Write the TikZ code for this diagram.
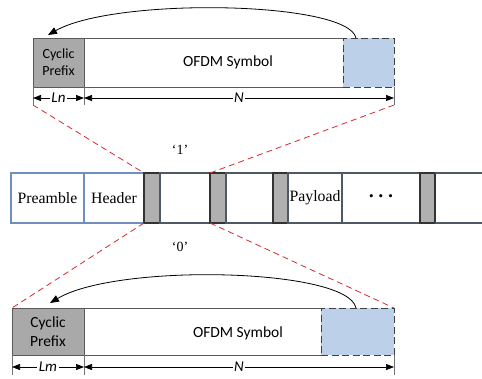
\documentclass[tikz,border=0pt]{standalone}
\usepackage{fontspec}
\setmainfont{Liberation Serif}
\newfontfamily\calfont{Carlito}
\usetikzlibrary{arrows.meta,calc}
\definecolor{cpgray}{HTML}{A9A9A9}
\definecolor{gbar}{HTML}{B0B0B0}
\definecolor{lightblue}{HTML}{BDD0E9}
\definecolor{framegray}{HTML}{595959}
\definecolor{slate}{HTML}{4F5866}
\definecolor{midblue}{HTML}{6F8FBF}
\definecolor{reddash}{HTML}{D52B2E}
\begin{document}
\begin{tikzpicture}[x=1pt,y=-1pt,
 cpbox/.style={draw=framegray, fill=cpgray, line width=0.8pt, inner sep=0pt, outer sep=0pt, align=center, anchor=north west},
 symbox/.style={draw=framegray, line width=0.8pt, inner sep=0pt, outer sep=0pt, anchor=north west},
 bluebox/.style={draw=black!75, fill=lightblue, line width=0.9pt, dash pattern=on 7pt off 3.5pt, inner sep=0pt, outer sep=0pt, anchor=north west},
 midbox/.style={draw=slate, line width=1.1pt, minimum height=50pt, inner sep=0pt, outer sep=0pt, anchor=north west, font=\fontsize{15.8}{18}\selectfont},
 prebox/.style={midbox, draw=midblue},
 gbox/.style={midbox, fill=gbar, draw=black!80},
 tickline/.style={draw=black!55, line width=0.6pt},
 dimarrow/.style={black, line width=0.7pt, {Triangle[length=8pt,width=6pt]}-{Triangle[length=8pt,width=6pt]}},
 dimlabel/.style={fill=white, inner sep=1.5pt, font=\calfont\itshape\fontsize{15}{15}\selectfont},
 backarrow/.style={black, line width=0.8pt, -{Triangle[length=9pt,width=7pt]}},
 rdash/.style={draw=reddash, line width=0.8pt, dash pattern=on 6pt off 4pt},
 qlabel/.style={font=\fontsize{14}{14}\selectfont},
 symtext/.style={font=\calfont\fontsize{15.5}{18}\selectfont},
]
\useasboundingbox (0,0) rectangle (482,378);

% ---------- top symbol ----------
\node[cpbox, minimum width=51pt, minimum height=49pt, font=\calfont\fontsize{14}{17}\selectfont] (cp1) at (33,38) {Cyclic\\Prefix};
\node[symbox, minimum width=259pt, minimum height=49pt] (sym1) at (cp1.north east) {};
\node[bluebox, minimum width=51pt, minimum height=49pt] (b1) at (sym1.north east) {};
\node[symtext] (t1) at (228,62) {OFDM Symbol};

\draw[tickline] (cp1.south west) -- ++(0,18) coordinate (k1);
\draw[tickline] (cp1.south east) -- ++(0,18) coordinate (k2);
\draw[tickline] (b1.south east) -- ++(0,18) coordinate (k3);
\draw[dimarrow] ($(cp1.south west)+(0,11)$) -- ($(cp1.south east)+(0,11)$) node[midway, dimlabel] (ln) {Ln};
\draw[dimarrow] ($(cp1.south east)+(0,11)$) -- ($(b1.south east)+(0,11)$) node[midway, dimlabel] (n1) {N};

\draw[backarrow] ($(b1.north west)+(13,0)$) .. controls +(-8,-37) and +(67,-38) .. ($(cp1.north west)+(15,-3)$);

% ---------- middle frame ----------
\node[prebox, minimum width=73pt] (pre) at (11,173) {Preamble};
\node[prebox, minimum width=60pt] (hdr) at (pre.north east) {Header};
\node[gbox, minimum width=16pt] (g1) at (hdr.north east) {};
\node[midbox, minimum width=50pt] (e1) at (g1.north east) {};
\node[gbox, minimum width=16pt] (g2) at (e1.north east) {};
\node[midbox, minimum width=47pt] (e2) at (g2.north east) {};
\node[gbox, minimum width=15pt] (g3) at (e2.north east) {};
\node[midbox, minimum width=54pt] (pay) at (g3.north east) {Payload};
\node[midbox, minimum width=78pt] (dts) at (pay.north east) {{\fontsize{13}{13}\selectfont •\hspace{5pt}•\hspace{5pt}•}};
\node[gbox, minimum width=15pt] (g4) at (dts.north east) {};
\node[midbox, draw=none, minimum width=47pt] (e3) at (g4.north east) {};
\draw[slate, line width=1.1pt] (e3.north west) -- (e3.north east) (e3.south west) -- (e3.south east);

\node[qlabel] (one) at (180,150) {‘1’};
\node[qlabel] (zero) at (180,247) {‘0’};

% ---------- bottom symbol ----------
\node[cpbox, minimum width=72pt, minimum height=47pt, font=\calfont\fontsize{15.5}{19}\selectfont] (cp2) at (12,308) {Cyclic\\Prefix};
\node[symbox, draw=none, minimum width=237pt, minimum height=47pt] (sym2) at (cp2.north east) {};
\draw[framegray, line width=0.8pt] (sym2.north west) -- (sym2.north east) (sym2.south west) -- (sym2.south east);
\node[bluebox, minimum width=73pt, minimum height=47pt] (b2) at (sym2.north east) {};
\node[symtext] (t2) at (238,333) {OFDM Symbol};

\draw[tickline] (cp2.south west) -- ++(0,20) coordinate (m1);
\draw[tickline] (cp2.south east) -- ++(0,20) coordinate (m2);
\draw[tickline] (b2.south east) -- ++(0,20) coordinate (m3);
\draw[dimarrow] ($(cp2.south west)+(0,12)$) -- ($(cp2.south east)+(0,12)$) node[midway, dimlabel] (lm) {Lm};
\draw[dimarrow] ($(cp2.south east)+(0,12)$) -- ($(b2.south east)+(0,12)$) node[midway, dimlabel] (n2) {N};

\draw[backarrow] ($(b2.north west)+(35,0)$) .. controls +(-8,-40) and +(67,-40) .. ($(cp2.north west)+(38,-5)$);

% ---------- red dashed zoom lines ----------
\draw[rdash] (k1) -- (g1.north west);
\draw[rdash] (k3) -- (g2.north west);
\draw[rdash] (g1.south west) -- (cp2.north west);
\draw[rdash] (g2.south west) -- (b2.north east);
\end{tikzpicture}
\end{document}
